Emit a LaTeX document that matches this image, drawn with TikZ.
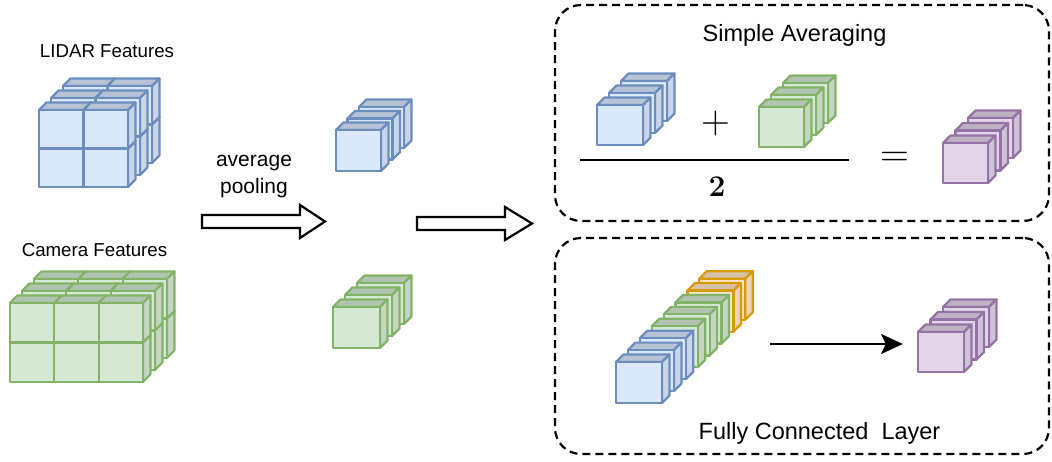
\documentclass[tikz,border=0pt]{standalone}
\usepackage{fontspec}
\setmainfont{Liberation Sans}
\newfontfamily\signfont{Latin Modern Roman}
\usepackage{tikz}
\usetikzlibrary{positioning,arrows.meta}

\definecolor{blueFill}{HTML}{DAE8FC}
\definecolor{blueLine}{HTML}{6C8EBF}
\definecolor{greenFill}{HTML}{D5E8D4}
\definecolor{greenLine}{HTML}{82B366}
\definecolor{orangeFill}{HTML}{FFE6CC}
\definecolor{orangeLine}{HTML}{D79B00}
\definecolor{purpleFill}{HTML}{E1D5E7}
\definecolor{purpleLine}{HTML}{9673A6}

\tikzstyle{CubeEdge}=[line width=2.2pt, line join=round]
\tikzstyle{SmallLabel}=[inner sep=0pt, anchor=base, font=\fontsize{18.7}{22}\selectfont]
\tikzstyle{BigLabel}=[inner sep=0pt, anchor=base, font=\fontsize{23.5}{28}\selectfont]
\tikzstyle{PoolLabel}=[inner sep=0pt, anchor=base, align=center, font=\fontsize{21}{26.7}\selectfont]
\tikzstyle{GroupBox}=[draw=black, line width=2.2pt, dash pattern=on 8pt off 5pt, rounded corners=26pt, inner sep=0pt]
\tikzstyle{BlockArrow}=[draw=black, line width=2.2pt, fill=white, line join=miter]
\tikzstyle{MathSign}=[inner sep=0pt, anchor=base]

% one cube: x, y (front face, top left), width, height, colour
\newcommand{\fcube}[5]{%
  \draw[CubeEdge, draw=#5Line, fill=#5Fill!84!black] (#1,#2) -- ++(7.5,-7.5) -- ++(#3,0) -- ++(-7.5,7.5) -- cycle;
  \draw[CubeEdge, draw=#5Line, fill=#5Fill!92!black] (#1+#3,#2) -- ++(7.5,-7.5) -- ++(0,#4) -- ++(-7.5,7.5) -- cycle;
  \draw[CubeEdge, draw=#5Line, fill=#5Fill] (#1,#2) rectangle ++(#3,#4);
}
% three cubes, back to front: x, y, width, height, step, colour
\newcommand{\fstack}[6]{%
  \foreach \s in {2,1,0}{\fcube{#1+#5*\s}{#2-#5*\s}{#3}{#4}{#6}}%
}

\begin{document}
\begin{tikzpicture}[x=1pt, y=-1pt]
  \useasboundingbox (0,0) rectangle (1052,462);

  % input features
  \node[SmallLabel] (lidar) at (107,58) {LIDAR Features};
  \foreach \k in {2,1,0}{\foreach \r in {1,0}{\foreach \col in {0,1}{
        \fcube{39+12*\k+44.5*\col}{110-12*\k+38.5*\r}{44.5}{38.5}{blue}}}}
  \node[SmallLabel] (camera) at (94.5,257) {Camera Features};
  \foreach \k in {2,1,0}{\foreach \r in {1,0}{\foreach \col in {0,1,2}{
        \fcube{10+12*\k+44.3*\col}{303-12*\k+39.5*\r}{44.3}{39.5}{green}}}}

  % pooling
  \node[PoolLabel] (pool) at (254,193.3) {average\\pooling};
  \draw[BlockArrow] (202,215) -- (300,215) -- (300,205) -- (325,221.5) -- (300,238) -- (300,228) -- (202,228) -- cycle;
  \fstack{336}{130}{45}{41}{11.5}{blue}
  \fstack{333}{307}{47}{41}{12}{green}
  \draw[BlockArrow] (417,217) -- (505,217) -- (505,207) -- (532,223.5) -- (505,240) -- (505,230) -- (417,230) -- cycle;

  % simple averaging
  \node[GroupBox, minimum width=494, minimum height=216] (avgbox) at (802,113) {};
  \node[BigLabel] (avgtitle) at (794.5,42) {Simple Averaging};
  \fstack{597}{105}{46}{40}{12}{blue}
  \node[MathSign] (plus) at (716,134) {\signfont\fontsize{40}{40}\selectfont +};
  \fstack{759}{107}{45}{40}{12}{green}
  \coordinate (barL) at (580,160);
  \coordinate (barR) at (849,160);
  \draw[line width=2.2pt] (barL) -- (barR);
  \node[MathSign] (two) at (717,197) {\signfont\bfseries\fontsize{30}{30}\selectfont 2};
  \node[MathSign] (equals) at (895,166.5) {\signfont\fontsize{40}{40}\selectfont =};
  \fstack{943}{143}{45}{40}{12.5}{purple}

  % fully connected
  \node[GroupBox, minimum width=494, minimum height=216] (fcbox) at (802,346) {};
  \foreach \i/\cl in {7/orange,6/orange,5/green,4/green,3/green,2/blue,1/blue,0/blue}{
    \fcube{616+11.9*\i}{362-11.9*\i}{46}{41}{\cl}}
  \fstack{918}{332}{46}{40}{12.5}{purple}
  \coordinate (fcfrom) at (770,344);
  \coordinate (fcto) at (903,344);
  \draw[line width=2.2pt, -{Stealth[length=22pt,width=20pt,inset=5pt]}] (fcfrom) -- (fcto);
  \node[BigLabel] (fctitle) at (819.5,439.3) {Fully Connected\ \ Layer};
\end{tikzpicture}
\end{document}
